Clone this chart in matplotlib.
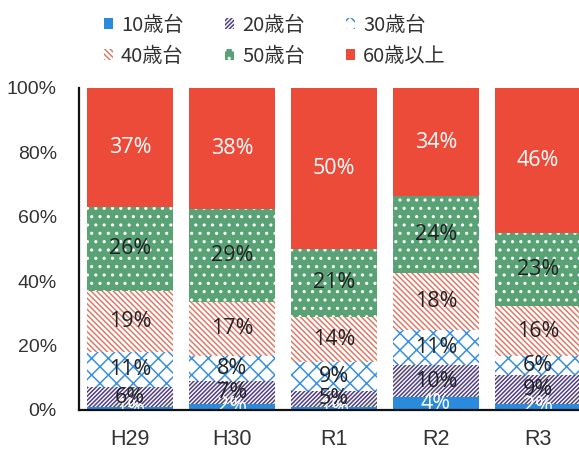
import matplotlib
matplotlib.use("Agg")
import matplotlib.pyplot as plt
import numpy as np

categories = ["H29", "H30", "R1", "R2", "R3"]
series_names = ["10歳台", "20歳台", "30歳台", "40歳台", "50歳台", "60歳以上"]
age10 = [1, 2, 1, 4, 2]
age20 = [6, 7, 5, 10, 9]
age30 = [11, 8, 9, 11, 6]
age40 = [19, 17, 14, 18, 16]
age50 = [26, 29, 21, 24, 23]
age60 = [37, 38, 50, 34, 46]
y_ticks = [0, 20, 40, 60, 80, 100]
y_tick_labels = ["0%", "20%", "40%", "60%", "80%", "100%"]

series = [age10, age20, age30, age40, age50, age60]
styles = [
    dict(color="#2A8BDD", edgecolor="#2A8BDD", hatch=None, tc="white"),
    dict(color="white", edgecolor="#4E3F80", hatch="////////", tc="#222222"),
    dict(color="white", edgecolor="#3A90E0", hatch="xx", tc="#222222"),
    dict(color="white", edgecolor="#E07A68", hatch="\\\\\\\\\\\\", tc="#222222"),
    dict(color="#58A276", edgecolor="white", hatch="..", tc="#222222"),
    dict(color="#EC4B3A", edgecolor="#EC4B3A", hatch=None, tc="white"),
]

plt.rcParams["hatch.linewidth"] = 1.1
plt.rcParams["font.family"] = ["Liberation Sans", "Noto Sans CJK JP"]

fig = plt.figure(figsize=(5.79, 4.55), dpi=100)
ax = fig.add_axes([79 / 579, 45 / 455, 500 / 579, 322 / 455])

data = np.array(series, dtype=float)
totals = data.sum(axis=0)
norm = data / totals * 100
x = np.arange(len(categories))
bottom = np.zeros(len(categories))
handles = []
for i, (name, vals, st) in enumerate(zip(series_names, norm, styles)):
    bars = ax.bar(x, vals, 0.85, bottom=bottom, color=st["color"],
                  edgecolor=st["edgecolor"], hatch=st["hatch"], linewidth=0,
                  label=name, zorder=2)
    handles.append(bars)
    for xi, b, v, raw in zip(x, bottom, vals, data[i]):
        ax.text(xi, b + v / 2, f"{int(raw)}%", ha="center", va="center",
                fontsize=15.5, color=st["tc"], family=["Open Sans", "DejaVu Sans"],
                zorder=3)
    bottom = bottom + vals

ax.set_xlim(-0.5, -0.5 + 500 / 102)
ax.set_ylim(0, 100)
ax.set_yticks(y_ticks)
ax.set_yticklabels(y_tick_labels, fontsize=14, color="#333333")
ax.set_xticks(x)
ax.set_xticklabels(categories, fontsize=15.5, color="#333333")
ax.tick_params(axis="both", length=0)
ax.tick_params(axis="y", pad=16)
ax.tick_params(axis="x", pad=14)
for s in ["top", "right"]:
    ax.spines[s].set_visible(False)
for s in ["left", "bottom"]:
    ax.spines[s].set_linewidth(1.6)
    ax.spines[s].set_color("#111111")
    ax.spines[s].set_zorder(4)

order = [0, 3, 1, 4, 2, 5]
leg = fig.legend(handles=[handles[i] for i in order],
                 labels=[series_names[i] for i in order], ncol=3,
                 loc="upper left", bbox_to_anchor=(104 / 579, 1 - 15 / 455),
                 frameon=False, handlelength=0.45,
                 handleheight=0.45, handletextpad=0.4, columnspacing=2.05,
                 labelspacing=0.5, borderpad=0, borderaxespad=0,
                 prop={"family": ["Noto Sans CJK JP"], "size": 14.5})
for t in leg.get_texts():
    t.set_color("#333333")

fig.savefig("out.png", dpi=100)
